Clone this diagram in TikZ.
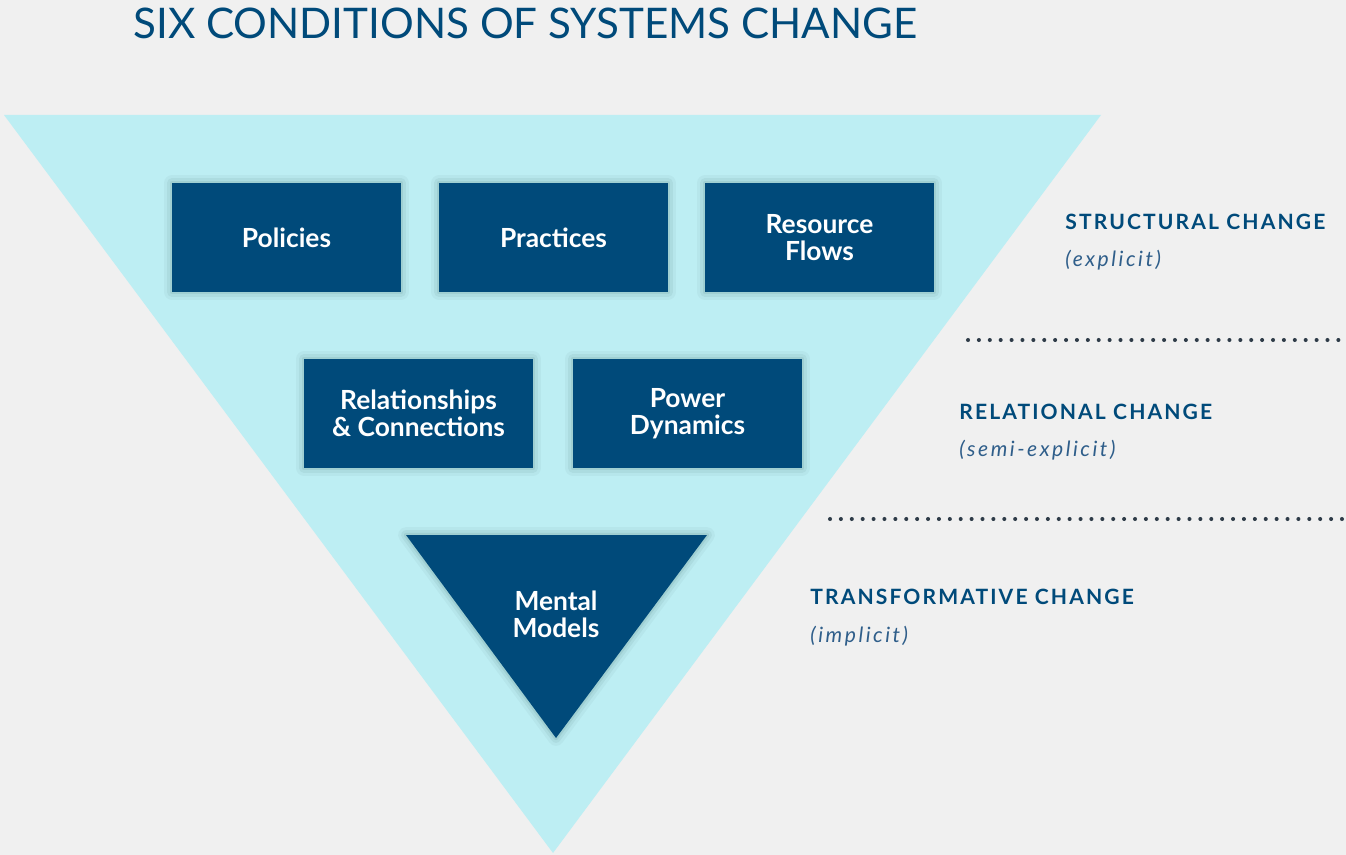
\documentclass[tikz,border=0pt]{standalone}
\usepackage{fontspec}
\setmainfont{Lato}

\definecolor{bg}{HTML}{F0F0F0}
\definecolor{aqua}{HTML}{BDEEF3}
\definecolor{navy}{HTML}{004A7A}
\definecolor{dotgrey}{HTML}{2E3B48}
\definecolor{subblue}{HTML}{2F5E8A}
\newfontfamily\capsfont[LetterSpace=10]{Lato}
\newfontfamily\notefont[LetterSpace=12]{Lato}

\tikzset{
    % soft glow built from stacked translucent strokes
    softshadow/.style={
        preaction={draw=black!70!teal, draw opacity=.035, line width=9pt, line join=round},
        preaction={draw=black!70!teal, draw opacity=.05, line width=5.5pt, line join=round},
        preaction={draw=black!70!teal, draw opacity=.07, line width=2.5pt, line join=round}},
    condbox/.style={fill=navy, text=white, minimum width=4.58cm, minimum height=2.18cm,
        align=center, inner sep=0pt, softshadow,
        font=\bfseries\fontsize{15}{15.5}\selectfont},
    levelname/.style={anchor=base west, inner sep=0pt, text=navy,
        font=\capsfont\bfseries\fontsize{12}{14}\selectfont},
    levelnote/.style={anchor=base west, inner sep=0pt, text=subblue,
        font=\notefont\itshape\fontsize{12}{14}\selectfont},
    dotline/.style={dotgrey, line width=2.3pt, line cap=round, dash pattern=on 0pt off 6.2pt}
}

\begin{document}
\begin{tikzpicture}[x=0.02cm, y=-0.02cm]
    \fill[bg] (0,0) rectangle (1346,855);
    \useasboundingbox (0,0) rectangle (1346,855);

    \node[anchor=base west, inner sep=0pt, text=navy, font=\fontsize{24}{27}\selectfont]
        (title) at (133,39) {SIX CONDITIONS OF SYSTEMS CHANGE};

    % big inverted triangle
    \fill[aqua] (4,115) -- (1101,115) -- (553,853) -- cycle;

    % structural row
    \node[condbox] (policies) at (286.5,237.5) {Policies};
    \node[condbox] (practices) at (553.5,237.5) {Practices};
    \node[condbox] (resources) at (819.5,237.5) {Resource\\Flows};

    % relational row
    \node[condbox] (relations) at (418.5,413.5) {Relationships\\\& Connections};
    \node[condbox] (power) at (687.5,413.5) {Power\\Dynamics};

    % transformative
    \fill[navy, softshadow] (406,535) -- (707,535) -- (556,738) -- cycle;
    \node[text=white, align=center, font=\bfseries\fontsize{15}{15.5}\selectfont]
        (mental) at (556,614) {Mental\\Models};

    % level labels
    \node[levelname] (structural) at (1065,229) {STRUCTURAL CHANGE};
    \node[levelnote] (explicit) at (1065,266) {(explicit)};
    \node[levelname] (relational) at (959,419) {RELATIONAL CHANGE};
    \node[levelnote] (semiexplicit) at (959,456) {(semi-explicit)};
    \node[levelname] (transformative) at (810,604) {TRANSFORMATIVE CHANGE};
    \node[levelnote] (implicit) at (810,642) {(implicit)};

    % separators
    \coordinate (sepA) at (968,340);
    \coordinate (sepA') at (1346,340);
    \coordinate (sepB) at (830,519);
    \coordinate (sepB') at (1346,519);
    \draw[dotline] (sepA) -- (sepA');
    \draw[dotline] (sepB) -- (sepB');
\end{tikzpicture}
\end{document}
